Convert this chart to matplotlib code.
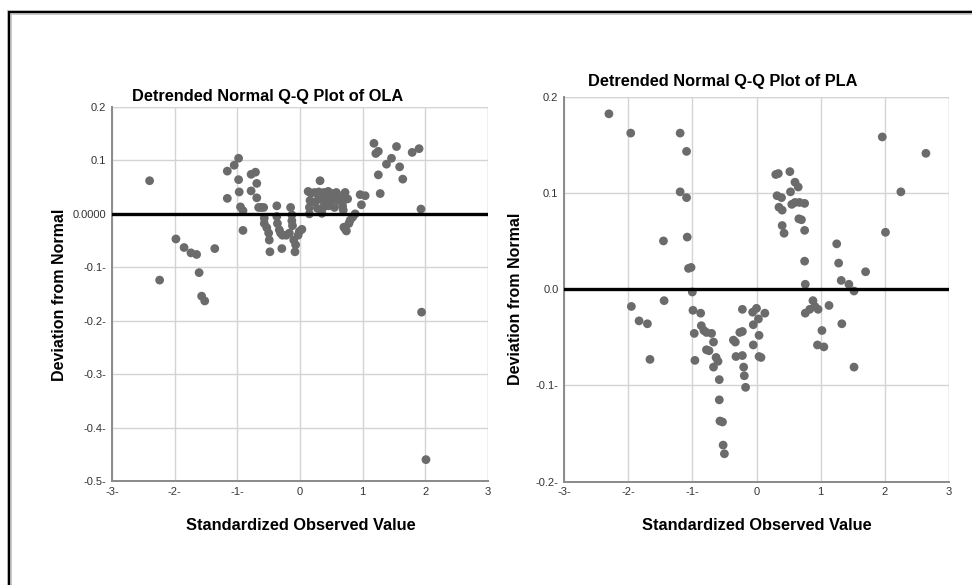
import matplotlib
matplotlib.use("Agg")
import matplotlib.pyplot as plt
from matplotlib.patches import Rectangle

plt.rcParams['font.family'] = ['Liberation Sans', 'DejaVu Sans']

# detrended Q-Q points for OLA (standardized value, deviation)
ola_x = [-2.40, -2.24, -1.98, -1.85, -1.74, -1.65, -1.61, -1.57, -1.52, -1.36,
         -1.16, -1.05, -0.98, -1.16, -0.98, -0.97, -0.95, -0.91, -0.91,
         -0.78, -0.71, -0.69, -0.78, -0.69, -0.66, -0.62, -0.58,
         -0.57, -0.57, -0.53, -0.50, -0.49, -0.48,
         -0.37, -0.37, -0.36, -0.33, -0.31, -0.28, -0.22, -0.17, -0.29,
         -0.15, -0.13, -0.13, -0.12, -0.10, -0.07, -0.08, 0.03, -0.01, -0.03,
         0.13, 0.17, 0.32, 0.23, 0.30, 0.38, 0.45, 0.52, 0.58, 0.66, 0.72,
         0.16, 0.24, 0.30, 0.36, 0.43, 0.50, 0.56, 0.62, 0.68, 0.76,
         0.15, 0.28, 0.38, 0.46, 0.55, 0.68, 0.15, 0.35, 0.69,
         0.72, 0.74, 0.70, 0.80, 0.84, 0.88, 0.78,
         0.96, 1.04, 0.98,
         1.18, 1.21, 1.25, 1.54, 1.46, 1.38, 1.59, 1.79, 1.90, 1.25, 1.64, 1.28,
         1.93, 1.94, 2.01]
ola_y = [0.062, -0.124, -0.047, -0.063, -0.073, -0.076, -0.110, -0.154, -0.163, -0.065,
         0.080, 0.091, 0.104, 0.029, 0.064, 0.041, 0.013, 0.006, -0.031,
         0.074, 0.078, 0.057, 0.043, 0.030, 0.012, 0.012, 0.012,
         -0.008, -0.018, -0.026, -0.036, -0.049, -0.071,
         0.015, -0.005, -0.018, -0.030, -0.036, -0.040, -0.040, -0.036, -0.065,
         0.012, -0.002, -0.013, -0.022, -0.049, -0.058, -0.071, -0.029, -0.033, -0.040,
         0.042, 0.039, 0.062, 0.040, 0.041, 0.040, 0.042, 0.038, 0.040, 0.032, 0.040,
         0.025, 0.022, 0.030, 0.025, 0.029, 0.026, 0.028, 0.025, 0.022, 0.028,
         0.012, 0.010, 0.013, 0.015, 0.012, 0.014, 0.000, 0.001, 0.007,
         -0.028, -0.032, -0.025, -0.012, -0.006, 0.000, -0.018,
         0.036, 0.034, 0.017,
         0.132, 0.113, 0.117, 0.126, 0.104, 0.093, 0.088, 0.115, 0.122, 0.073, 0.065, 0.038,
         0.009, -0.184, -0.460]

# detrended Q-Q points for PLA
pla_x = [-2.30, -1.96, -1.19, -1.09, -1.19, -1.09, -1.45, -1.08, -1.06, -1.02,
         -1.00, -1.44, -1.95, -1.83, -1.70, -1.66,
         -0.99, -0.87, -0.97, -0.96, -0.86, -0.82, -0.78, -0.70, -0.67,
         -0.78, -0.74, -0.63, -0.60, -0.67, -0.58, -0.58, -0.57, -0.53, -0.52, -0.50,
         -0.36, -0.33, -0.26, -0.22, -0.32, -0.22, -0.20, -0.19, -0.17,
         -0.22, -0.06, 0.00, -0.05, -0.05, 0.03, 0.13, 0.04, 0.04, 0.07,
         0.30, 0.34, 0.52, 0.60, 0.65, 0.53, 0.32, 0.39, 0.55, 0.60, 0.67, 0.75,
         0.35, 0.40, 0.66, 0.70, 0.40, 0.43, 0.75, 0.75, 0.76,
         0.76, 0.83, 0.91, 0.88, 0.96, 0.95, 1.05, 1.02, 1.13,
         1.25, 1.28, 1.32, 1.33, 1.44, 1.52, 1.52, 1.70,
         1.96, 2.01, 2.25, 2.64]
pla_y = [0.182, 0.162, 0.162, 0.143, 0.101, 0.095, 0.050, 0.054, 0.0215, 0.0225,
         -0.003, -0.012, -0.018, -0.033, -0.036, -0.073,
         -0.022, -0.025, -0.046, -0.074, -0.038, -0.043, -0.045, -0.046, -0.055,
         -0.063, -0.064, -0.071, -0.075, -0.081, -0.094, -0.115, -0.137, -0.138, -0.162, -0.171,
         -0.053, -0.055, -0.045, -0.044, -0.070, -0.069, -0.081, -0.090, -0.102,
         -0.021, -0.024, -0.020, -0.037, -0.058, -0.031, -0.025, -0.048, -0.070, -0.071,
         0.119, 0.120, 0.122, 0.111, 0.106, 0.101, 0.097, 0.095, 0.088, 0.090, 0.090, 0.089,
         0.085, 0.082, 0.073, 0.072, 0.066, 0.058, 0.061, 0.029, 0.005,
         -0.025, -0.021, -0.018, -0.012, -0.021, -0.058, -0.060, -0.043, -0.017,
         0.047, 0.027, 0.009, -0.036, 0.005, -0.002, -0.081, 0.018,
         0.158, 0.059, 0.101, 0.141]

x_ticks = [-3, -2, -1, 0, 1, 2, 3]
x_labels = ['-3-', '-2-', '-1-', '0', '1', '2', '3']
ola_yticks = [0.2, 0.1, 0.0, -0.1, -0.2, -0.3, -0.4, -0.5]
ola_ylabels = ['0.2', '0.1', '0.0000', '-0.1-', '-0.2-', '-0.3-', '-0.4-', '-0.5-']
pla_yticks = [0.2, 0.1, 0.0, -0.1, -0.2]
pla_ylabels = ['0.2', '0.1', '0.0', '-0.1-', '-0.2-']

fig = plt.figure(figsize=(9.72, 5.85), dpi=100)
fig.patch.set_facecolor('white')

# outer frame like the screenshot border
fig.patches.append(Rectangle((9 / 972, -0.05), 1.0, 1 - 12 / 585 + 0.05,
                             transform=fig.transFigure, fill=False,
                             edgecolor='#c8c8c8', lw=3.5, zorder=0))
fig.patches.append(Rectangle((9 / 972, -0.05), 1.0, 1 - 12 / 585 + 0.05,
                             transform=fig.transFigure, fill=False,
                             edgecolor='black', lw=1.6, zorder=1))

ax1 = fig.add_axes([112 / 972, 1 - 481 / 585, 376 / 972, 374 / 585])
ax2 = fig.add_axes([564 / 972, 1 - 481.7 / 585, 385 / 972, 385.2 / 585])


def style(ax, xs, ys, yticks, ylabels, ylim):
    ax.scatter(xs, ys, s=40, color='#6b6b6b', edgecolors='none', zorder=3)
    ax.axhline(0, color='black', lw=2.4, zorder=4)
    ax.set_xlim(-3, 3)
    ax.set_ylim(*ylim)
    ax.set_xticks(x_ticks)
    ax.set_xticklabels(x_labels)
    ax.set_yticks(yticks)
    ax.set_yticklabels(ylabels)
    ax.grid(True, color='#d4d4d4', lw=1.0, zorder=0)
    ax.set_axisbelow(True)
    for s in ['top', 'right']:
        ax.spines[s].set_visible(False)
    for s in ['left', 'bottom']:
        ax.spines[s].set_color('#8a8a8a')
        ax.spines[s].set_linewidth(1.4)
    ax.tick_params(length=0, labelsize=8, colors='#333333', pad=4)


style(ax1, ola_x, ola_y, ola_yticks, ola_ylabels, (-0.5, 0.2))
style(ax2, pla_x, pla_y, pla_yticks, pla_ylabels, (-0.2, 0.2))

# top/right grid edges
for ax in (ax1, ax2):
    ax.axhline(ax.get_ylim()[1], color='#d4d4d4', lw=1.0, zorder=0)
    ax.axvline(3, color='#d4d4d4', lw=1.0, zorder=0)

fig.text(268 / 972, 1 - 96 / 585, 'Detrended Normal Q-Q Plot of OLA',
         ha='center', va='center', fontsize=11.8, fontweight='bold')
fig.text(723 / 972, 1 - 82 / 585, 'Detrended Normal Q-Q Plot of PLA',
         ha='center', va='center', fontsize=11.8, fontweight='bold')

fig.text(301 / 972, 1 - 526 / 585, 'Standardized Observed Value',
         ha='center', va='center', fontsize=11.8, fontweight='bold')
fig.text(757 / 972, 1 - 526 / 585, 'Standardized Observed Value',
         ha='center', va='center', fontsize=11.8, fontweight='bold')

fig.text(59 / 972, 1 - 295 / 585, 'Deviation from Normal', rotation=90,
         ha='center', va='center', fontsize=11.5, fontweight='bold')
fig.text(515 / 972, 1 - 299 / 585, 'Deviation from Normal', rotation=90,
         ha='center', va='center', fontsize=11.5, fontweight='bold')

fig.savefig('out.png', dpi=100, facecolor='white')
